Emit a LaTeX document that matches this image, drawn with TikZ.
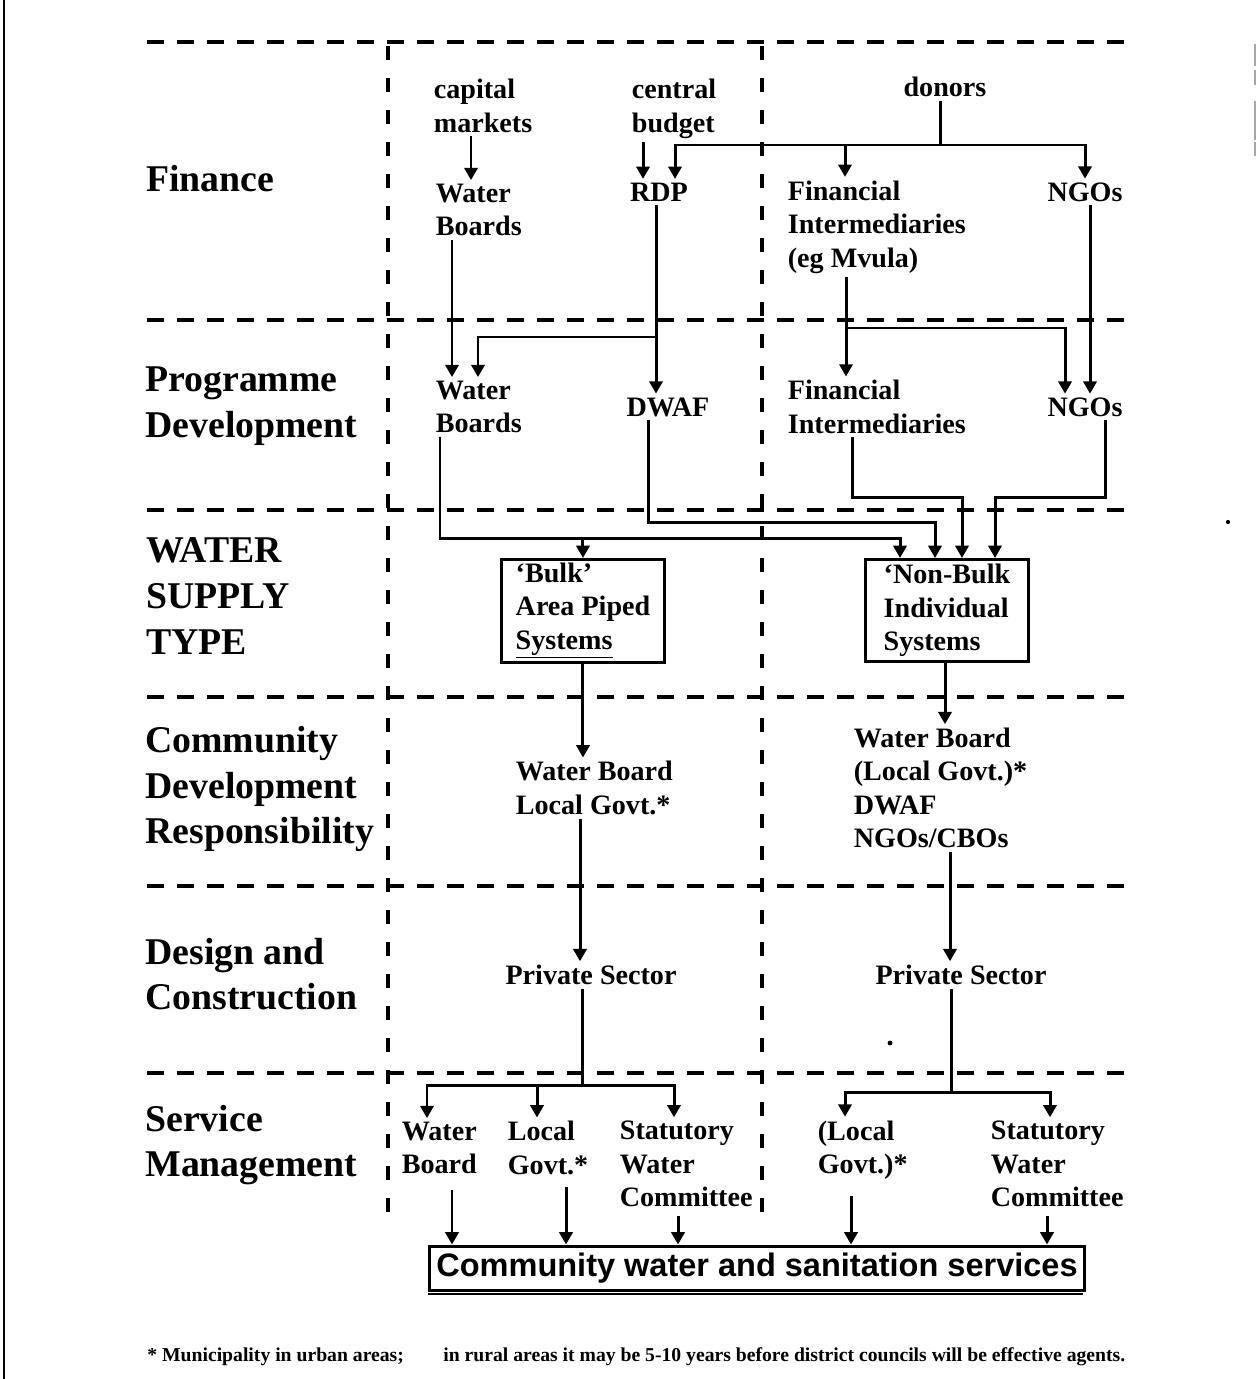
\documentclass[tikz,border=0pt]{standalone}
\usepackage{fontspec}
\setmainfont{Liberation Serif}
\newfontfamily\boxfont{Liberation Sans}
\usetikzlibrary{arrows.meta}

\newcommand{\rowlabelfont}{\fontsize{21.5}{26}\selectfont\bfseries}
\newcommand{\entryfont}{\fontsize{16}{19}\selectfont\bfseries}
\newcommand{\notefont}{\fontsize{11.2}{13}\selectfont\bfseries}

\tikzset{
    rowlabel/.style={font=\rowlabelfont, align=left, inner sep=0pt, anchor=west},
    entry/.style={font=\entryfont, align=left, inner sep=2pt},
    typebox/.style={entry, draw, line width=1.7pt, minimum width=3.26cm,
        minimum height=2.04cm, anchor=north west},
    link/.style={line width=1.7pt},
    flow/.style={link, -{Triangle[length=7pt,width=7.5pt]}},
    note/.style={font=\notefont, inner sep=0pt, anchor=west},
}

\begin{document}
\begin{tikzpicture}[x=0.02cm, y=-0.02cm]
    \useasboundingbox (0,0) rectangle (1257,1379);

    % page edge and scan marks
    \draw[line width=1.7pt] (4,0) -- (4,1379);
    \draw[gray!70, line width=0.8pt] (1255,44) -- (1255,66) (1255,70) -- (1255,85)
        (1255,101) -- (1255,140) (1255,142) -- (1255,156);
    \fill (1228,522) circle (1.2pt);
    \fill (890,1043) circle (1.4pt);

    % row separators, one dash at a time
    \foreach \y in {42,320,510,697,886,1073}
        \foreach \x in {147,177,...,1107}
            \fill (\x,{\y-2}) rectangle ++(17,4);
    %% column separators
    \foreach \x in {388,762}
        \foreach \y in {46,78,...,1200}
            \fill ({\x-2},\y) rectangle ++(4,14);

    % row labels
    \node[rowlabel] (finance) at (146,179) {Finance};
    \node[rowlabel] (progdev) at (145,406) {Programme\\Development};
    \node[rowlabel] (wstype) at (146,596) {WATER\\SUPPLY\\TYPE};
    \node[rowlabel] (commdev) at (145,789) {Community\\Development\\Responsibility};
    \node[rowlabel] (design) at (145,974) {Design and\\Construction};
    \node[rowlabel] (service) at (145,1145) {Service\\Management};

    % finance
    \node[entry, anchor=west] (capm) at (430,106) {capital\\markets};
    \node[entry, anchor=west] (cbud) at (628,109) {central\\budget};
    \node[entry] (donors) at (945,87) {donors};
    \node[entry, anchor=west] (wbfin) at (432,210) {Water\\Boards};
    \node[entry] (rdp) at (659,192) {RDP};
    \node[entry, anchor=west] (fifin) at (784,227) {Financial\\Intermediaries\\(eg Mvula)};
    \node[entry] (ngofin) at (1085,192) {NGOs};

    % programme development
    \node[entry, anchor=west] (wbprog) at (432,407) {Water\\Boards};
    \node[entry] (dwaf) at (668,407) {DWAF};
    \node[entry, anchor=west] (fiprog) at (784,407) {Financial\\Intermediaries};
    \node[entry] (ngoprog) at (1085,407) {NGOs};

    % water supply type
    \node[typebox] (bulk) at (500,558) {`Bulk'\\Area Piped\\\underline{Systems}};
    \node[typebox] (nonbulk) at (864,558) {`Non-Bulk\\Individual\\Systems};

    % community development
    \node[entry, anchor=west] (cdleft) at (512,788) {Water Board\\Local Govt.*};
    \node[entry, anchor=west] (cdright) at (850,788) {Water Board\\(Local Govt.)*\\DWAF\\NGOs/CBOs};

    % design and construction
    \node[entry] (psleft) at (591,975) {Private Sector};
    \node[entry] (psright) at (961,975) {Private Sector};

    % service management
    \node[entry, anchor=west] (smwb) at (398,1148) {Water\\Board};
    \node[entry, anchor=west] (smlg) at (504,1148) {Local\\Govt.*};
    \node[entry, anchor=west] (smswc) at (616,1164) {Statutory\\Water\\Committee};
    \node[entry, anchor=west] (smlgr) at (814,1150) {(Local\\Govt.)*};
    \node[entry, anchor=west] (smswcr) at (987,1164) {Statutory\\Water\\Committee};

    \node[draw, line width=1.7pt, font=\fontsize{18.5}{22}\selectfont\boxfont\bfseries,
        minimum width=13.1cm, minimum height=0.88cm, inner sep=0pt] (services) at (757,1268)
        {Community water and sanitation services};
    \draw[line width=1pt] (428,1294) -- (1083,1294);

    % footnote
    \node[note] (note1) at (147,1357) {* Municipality in urban areas;};
    \node[note] (note2) at (443,1357) {in rural areas it may be 5-10 years before district councils will be effective agents.};

    % finance flows
    \draw[flow] (471,0 |- capm.south) -- (471,0 |- wbfin.north);
    \draw[flow] (643,0 |- cbud.south) -- (643,0 |- rdp.north);
    \coordinate (dsplit) at (940,145);
    \draw[link] (940,0 |- donors.south) -- (dsplit);
    \draw[flow] (dsplit) -| (675,0 |- rdp.north);
    \draw[flow] (dsplit) -| (845,0 |- fifin.north);
    \draw[flow] (dsplit) -| (1085,0 |- ngofin.north);

    % finance to programme development
    \draw[flow] (452,0 |- wbfin.south) -- (452,0 |- wbprog.north);
    \draw[flow] (656,0 |- rdp.south) -- (656,0 |- dwaf.north);
    \coordinate (rsplit) at (656,337);
    \draw[flow] (rsplit) -| (478,0 |- wbprog.north);
    \draw[flow] (846,0 |- fifin.south) -- (846,0 |- fiprog.north);
    \coordinate (fsplit) at (846,328);
    \draw[flow] (fsplit) -| (1065,0 |- ngoprog.north);
    \draw[flow] (1090,0 |- ngofin.south) -- (1090,0 |- ngoprog.north);

    % programme development to supply type
    \coordinate (wbjoin) at (bulk.north |- 0,538);
    \draw[flow] (440,0 |- wbprog.south) |- (wbjoin) -- (bulk.north);
    \draw[flow] (wbjoin) -| (900,0 |- nonbulk.north);
    \draw[flow] (648,0 |- dwaf.south) -- (648,522) -| (935,0 |- nonbulk.north);
    \draw[flow] (852,0 |- fiprog.south) -- (852,497) -| (962,0 |- nonbulk.north);
    \draw[flow] (1105,0 |- ngoprog.south) -- (1105,497) -| (995,0 |- nonbulk.north);

    % supply type down to design
    \draw[flow] (bulk.south) -- (bulk.south |- cdleft.north);
    \draw[flow] (945,0 |- nonbulk.south) -- (945,0 |- cdright.north);
    \draw[flow] (580,0 |- cdleft.south) -- (580,0 |- psleft.north);
    \draw[flow] (950,0 |- cdright.south) -- (950,0 |- psright.north);

    % design to service management
    \coordinate (pssplit) at (582,1085);
    \draw[link] (582,0 |- psleft.south) -- (pssplit);
    \draw[flow] (pssplit) -| (427,0 |- smwb.north);
    \draw[flow] (pssplit) -| (537,0 |- smlg.north);
    \draw[flow] (pssplit) -| (674,0 |- smswc.north);
    \coordinate (pssplitr) at (951,1092);
    \draw[link] (951,0 |- psright.south) -- (pssplitr);
    \draw[flow] (pssplitr) -| (845,0 |- smlgr.north);
    \draw[flow] (pssplitr) -| (1050,0 |- smswcr.north);

    % service management to services
    \draw[flow, shorten <=7pt] (452,0 |- smwb.south) -- (452,0 |- services.north);
    \draw[flow, shorten <=5pt] (566,0 |- smlg.south) -- (566,0 |- services.north);
    \draw[flow, shorten <=3pt] (678,0 |- smswc.south) -- (678,0 |- services.north);
    \draw[flow, shorten <=7pt] (851,0 |- smlgr.south) -- (851,0 |- services.north);
    \draw[flow, shorten <=3pt] (1047,0 |- smswcr.south) -- (1047,0 |- services.north);
\end{tikzpicture}
\end{document}
